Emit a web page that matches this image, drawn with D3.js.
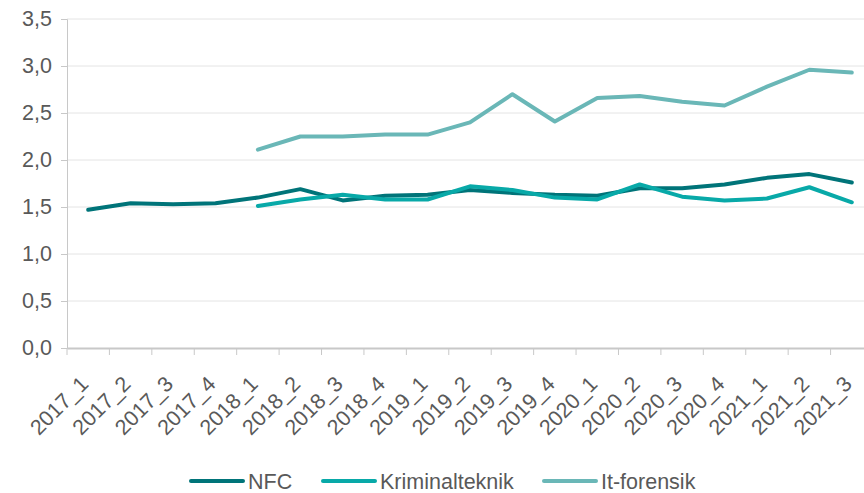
<!DOCTYPE html>
<html>
<head>
<meta charset="utf-8">
<script src="https://cdn.jsdelivr.net/npm/d3@7"></script>
<style>
  body { margin: 0; background: #fff; }
  svg { display: block; }
  text { font-family: "Liberation Sans", Arial, sans-serif; fill: #595959; }
</style>
</head>
<body>
<svg width="864" height="493"></svg>
<script>
var kvartaler = ["2017_1","2017_2","2017_3","2017_4","2018_1","2018_2","2018_3","2018_4",
                 "2019_1","2019_2","2019_3","2019_4","2020_1","2020_2","2020_3","2020_4",
                 "2021_1","2021_2","2021_3"];

// null = ingen data for kvartalet
var nfc = [1.47, 1.54, 1.53, 1.54, 1.60, 1.69, 1.57, 1.62, 1.63, 1.68, 1.65, 1.63,
           1.62, 1.70, 1.70, 1.74, 1.81, 1.85, 1.76];
var kriminalteknik = [null, null, null, null, 1.51, 1.58, 1.63, 1.58, 1.58, 1.72, 1.68, 1.60,
                      1.58, 1.74, 1.61, 1.57, 1.59, 1.71, 1.55];
var itForensik = [null, null, null, null, 2.11, 2.25, 2.25, 2.27, 2.27, 2.40, 2.70, 2.41,
                  2.66, 2.68, 2.62, 2.58, 2.78, 2.96, 2.93];

var yTicks = [0, 0.5, 1, 1.5, 2, 2.5, 3, 3.5];

var serier = [
  {navn: "NFC", verdier: nfc, farge: "#007479"},
  {navn: "Kriminalteknik", verdier: kriminalteknik, farge: "#08a9a8"},
  {navn: "It-forensik", verdier: itForensik, farge: "#6ab7b7"}
];

var svg = d3.select("svg");

//område for plottet
var plotLeft = 67, plotRight = 873, plotTop = 19, plotBottom = 348;
var fontSize = "21.5px";

var x = d3.scaleBand().domain(kvartaler).range([plotLeft, plotRight]);
var y = d3.scaleLinear().domain([0, 3.5]).range([plotBottom, plotTop]);

var komma = function(d){ return d3.format(".1f")(d).replace(".", ","); };

//rutenett
svg.append("g")
   .selectAll("line")
   .data(yTicks.filter(function(d){ return d > 0; }))
   .enter().append("line")
   .attr("x1", plotLeft).attr("x2", 864)
   .attr("y1", function(d){ return y(d); })
   .attr("y2", function(d){ return y(d); })
   .attr("stroke", "#e4e4e4")
   .attr("stroke-width", 1);

//y-akse
var yAxis = svg.append("g")
   .attr("transform", "translate(" + plotLeft + ",0)")
   .call(d3.axisLeft(y).tickValues(yTicks).tickFormat(komma).tickSize(6).tickPadding(9));
yAxis.select(".domain").attr("stroke", "#c8c8c8");
yAxis.selectAll(".tick line").attr("stroke", "#c8c8c8");
yAxis.selectAll("text").style("font-size", fontSize).attr("fill", "#595959");

//x-akse
var xAxis = svg.append("g")
   .attr("transform", "translate(0," + plotBottom + ")")
   .call(d3.axisBottom(x).tickSize(0).tickFormat(""));
xAxis.select(".domain").attr("stroke", "#c8c8c8").attr("stroke-width", 2);

//tick-streker mellom kvartalene
svg.append("g")
   .selectAll("line")
   .data(kvartaler)
   .enter().append("line")
   .attr("x1", function(d){ return x(d); })
   .attr("x2", function(d){ return x(d); })
   .attr("y1", plotBottom).attr("y2", plotBottom + 7)
   .attr("stroke", "#c8c8c8")
   .attr("stroke-width", 1);

//etiketter
svg.append("g")
   .selectAll("text")
   .data(kvartaler)
   .enter().append("text")
   .attr("text-anchor", "end")
   .attr("transform", function(d){
      return "translate(" + (x(d) + x.bandwidth() / 2 - 10) + "," + (plotBottom + 26) + ") rotate(-45)";
   })
   .attr("dy", "0.75em")
   .style("font-size", fontSize)
   .text(function(d){ return d; });

//linjer
var linje = d3.line()
   .defined(function(d){ return d != null; })
   .x(function(d, i){ return x(kvartaler[i]) + x.bandwidth() / 2; })
   .y(function(d){ return y(d); });

svg.append("g")
   .selectAll("path")
   .data(serier)
   .enter().append("path")
   .attr("d", function(s){ return linje(s.verdier); })
   .attr("fill", "none")
   .attr("stroke", function(s){ return s.farge; })
   .attr("stroke-width", 4)
   .attr("stroke-linecap", "round")
   .attr("stroke-linejoin", "round");

//forklaring
var legendX = [191, 323, 544];
var legend = svg.append("g")
   .selectAll("g")
   .data(serier)
   .enter().append("g")
   .attr("transform", function(s, i){ return "translate(" + legendX[i] + ",481)"; });

legend.append("line")
   .attr("x1", 0).attr("x2", 52)
   .attr("stroke", function(s){ return s.farge; })
   .attr("stroke-width", 4)
   .attr("stroke-linecap", "round");

legend.append("text")
   .attr("x", 57)
   .attr("dy", "0.35em")
   .style("font-size", fontSize)
   .text(function(s){ return s.navn; });
</script>
</body>
</html>
